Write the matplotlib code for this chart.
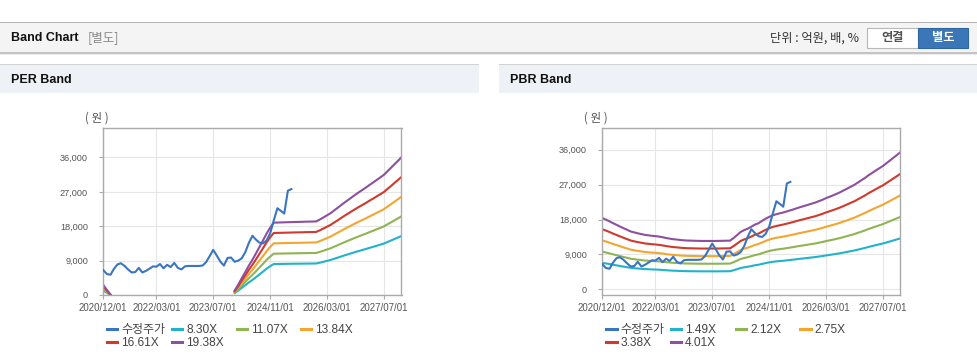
import matplotlib
matplotlib.use('Agg')
import matplotlib.pyplot as plt
import matplotlib.dates as mdates
from matplotlib.patches import Rectangle
from matplotlib.legend import Legend
from matplotlib.ticker import FuncFormatter
import numpy as np
import pandas as pd

plt.rcParams['font.family'] = ['Liberation Sans', 'Noto Sans CJK KR', 'DejaVu Sans']
KR = ['Noto Sans CJK KR', 'DejaVu Sans']

W, H = 978, 364

# ---- data (monthly, 2020/12 .. 2027/12) ----
months = pd.date_range('2020-12-01', periods=85, freq='MS')

price = [6500, 5500, 5300, 6800, 8000, 8300, 7600, 6700, 5900, 6000,
         7100, 5900, 6300, 6900, 7500, 7400, 8100, 7000, 7900, 7300,
         8400, 7100, 6700, 7500, 7600, 7600, 7600, 7600, 7700, 8600,
         10200, 11800, 10300, 8700, 7700, 9700, 9800, 8700, 9000, 9600,
         11200, 13600, 15500, 14500, 13700, 13500, 14300, 16200, 19500, 22700,
         22000, 21300, 27300, 27700]

# EPS used for PER band (gap = negative earnings)
eps = ([135, 68, 5] + [np.nan] * 34 +
       [60, 140, 225, 310, 395, 475, 560, 650, 740, 830, 910, 977,
        978, 980, 981, 983, 984, 986, 987, 988, 990, 991, 992,
        994, 1020, 1048, 1075, 1103, 1140, 1176, 1213, 1250, 1285, 1320,
        1355, 1388, 1420, 1453, 1485, 1518, 1552, 1586, 1620, 1668, 1716,
        1764, 1812, 1860])
per_mult = [8.30, 11.07, 13.84, 16.61, 19.38]
per_labels = ['8.30X', '11.07X', '13.84X', '16.61X', '19.38X']

# BPS used for PBR band
bps = [4580, 4480, 4370, 4260, 4150, 4040, 3930, 3830, 3720, 3660,
       3600, 3550, 3500, 3470, 3440, 3420, 3390, 3350, 3300, 3260,
       3220, 3200, 3170, 3150, 3135, 3130, 3120, 3115, 3110, 3110,
       3110, 3110, 3110, 3115, 3120, 3125, 3130,
       3300, 3500, 3690, 3810, 3900, 4030, 4160, 4250, 4400, 4540,
       4660, 4760, 4830, 4890, 4940, 5010, 5080, 5150, 5230, 5300,
       5370, 5440, 5510, 5580, 5670, 5760, 5860, 5950, 6040, 6140,
       6240, 6360, 6480, 6600, 6720, 6870, 7020, 7170, 7330, 7480,
       7630, 7780, 7920, 8100, 8280, 8460, 8640, 8820]
pbr_mult = [1.49, 2.12, 2.75, 3.38, 4.01]
pbr_labels = ['1.49X', '2.12X', '2.75X', '3.38X', '4.01X']

price_label = '수정주가'
yticks = [0, 9000, 18000, 27000, 36000]
xticks = ['2020-12-01', '2022-03-01', '2023-07-01', '2024-11-01', '2026-03-01', '2027-07-01']

price_color = '#3a75c2'
band_colors = ['#22b2ca', '#8fb452', '#f5a52f', '#d0392b', '#8d4f9e']


def fx(x):
    return x / W


def fy(y):
    return 1 - y / H


def rect(x0, y0, x1, y1, **kw):
    fig.add_artist(Rectangle((fx(x0), fy(y1)), fx(x1) - fx(x0), fy(y0) - fy(y1),
                             transform=fig.transFigure, **kw))


fig = plt.figure(figsize=(W / 100, H / 100), dpi=100)
fig.patch.set_facecolor('white')

# top header bar
rect(0, 22, W, 53, facecolor='#f4f4f4', edgecolor='none')
rect(0, 21.5, W, 22.5, facecolor='#b4b4b4', edgecolor='none')
rect(0, 52.5, W, 53.5, facecolor='#c4c4c4', edgecolor='none')
rect(0, 53.5, W, 55, facecolor='#ececec', edgecolor='none')
fig.text(fx(11), fy(38), 'Band Chart', fontsize=9, fontweight='bold', color='#111',
         va='center', ha='left')
fig.text(fx(88), fy(38), '[별도]', fontsize=9, color='#8a8a8a', va='center',
         ha='left', family=KR)
fig.text(fx(859), fy(38), '단위 : 억원, 배, %', fontsize=8.8, color='#333',
         va='center', ha='right', family=KR)
rect(867, 28, 918, 48, facecolor='white', edgecolor='#b8b8b8', linewidth=0.8)
rect(918, 28, 968, 48, facecolor='#3b77b6', edgecolor='#2f66a2', linewidth=0.8)
fig.text(fx(892.5), fy(38), '연결', fontsize=8.8, fontweight='bold', color='#555',
         va='center', ha='center', family=KR)
fig.text(fx(943), fy(38), '별도', fontsize=8.8, fontweight='bold', color='white',
         va='center', ha='center', family=KR)

# panel headers
for x0, x1, title in [(0, 479, 'PER Band'), (499, W, 'PBR Band')]:
    rect(x0, 64, x1, 93, facecolor='#eef2f7', edgecolor='none')
    rect(x0, 63.5, x1, 64.5, facecolor='#d2d2d2', edgecolor='none')
    fig.text(fx(x0 + 11), fy(80), title, fontsize=9, fontweight='bold', color='#111',
             va='center', ha='left')


def make_panel(left, ylim, base, mults, labels, unit_x, leg_x):
    ax = fig.add_axes([fx(left), fy(295), fx(298.2), (295 - 128) / H])
    ax.set_facecolor('white')
    ax.plot(months[:len(price)], price, color=price_color, lw=1.5, label=price_label,
            zorder=5)
    base = np.array(base, dtype=float)
    lines = []
    for m, lab, c in zip(mults, labels, band_colors):
        ln, = ax.plot(months, base * m, color=c, lw=1.5, label=lab)
        lines.append(ln)
    ax.set_xlim(months[0], months[-1])
    ax.set_ylim(*ylim)
    ax.set_yticks(yticks)
    ax.yaxis.set_major_formatter(FuncFormatter(lambda v, p: f'{v:,.0f}'))
    ax.set_xticks(pd.to_datetime(xticks))
    ax.xaxis.set_major_formatter(mdates.DateFormatter('%Y/%m/%d'))
    ax.grid(True, color='#e6e6e6', lw=0.8)
    ax.set_axisbelow(True)
    for s in ax.spines.values():
        s.set_color('#aaaaaa')
        s.set_linewidth(1)
    ax.tick_params(axis='y', length=3, color='#aaaaaa', pad=8, labelsize=6.6,
                   labelcolor='#555')
    ax.tick_params(axis='x', length=3, color='#aaaaaa', pad=3, labelsize=7,
                   labelcolor='#555')
    fig.text(fx(unit_x), fy(118), '( 원 )', fontsize=8.3, color='#555', va='center',
             ha='left', family=KR)

    # legend, one entry per slot
    handles = [ax.lines[0]] + lines
    names = [price_label] + list(labels)
    slots = [(leg_x[0], 330), (leg_x[1], 330), (leg_x[2], 330), (leg_x[3], 330),
             (leg_x[0], 343), (leg_x[1], 343)]
    for h, n, (sx, sy) in zip(handles, names, slots):
        lg = Legend(ax, [h], [n], loc='center left', frameon=False,
                    bbox_to_anchor=(fx(sx), fy(sy)), bbox_transform=fig.transFigure,
                    borderpad=0, borderaxespad=0, handlelength=0.9,
                    handletextpad=0.3, prop={'family': ['Liberation Sans', 'Noto Sans CJK KR'],
                                             'size': 8.6})
        for t in lg.get_texts():
            t.set_color('#444')
        for l in lg.get_lines():
            l.set_linewidth(2.2)
        ax.add_artist(lg)
    return ax


make_panel(103.3, (0, 43700), eps, per_mult, per_labels, 85,
           [106.7, 171.7, 236.7, 300.7])
make_panel(602.3, (-1470, 41600), bps, pbr_mult, pbr_labels, 584,
           [606, 670.7, 735.7, 800])

fig.savefig('out.png', dpi=100, facecolor='white')
